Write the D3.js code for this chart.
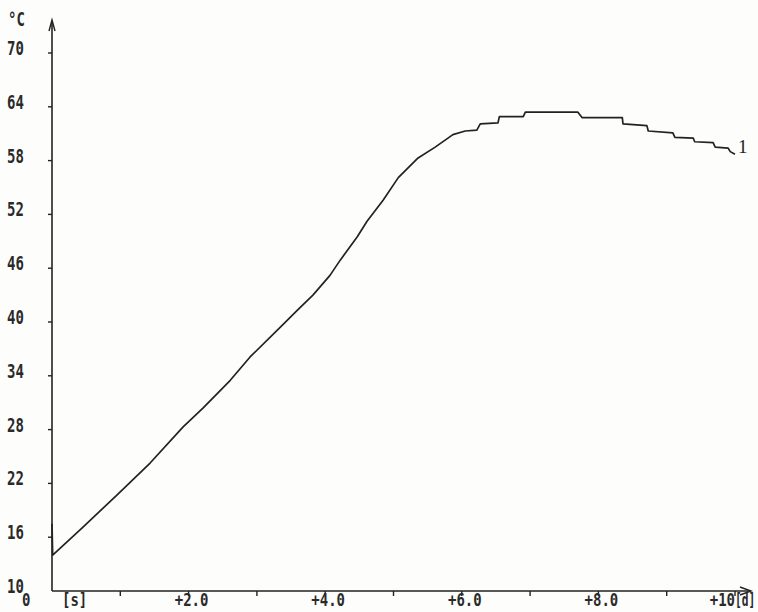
<!DOCTYPE html>
<html>
<head>
<meta charset="utf-8">
<script src="https://cdn.jsdelivr.net/npm/d3@7"></script>
<style>
    body { margin: 0; background: #fdfdfb; }
    svg { display: block; }
    .lbl { font-family: "DejaVu Sans Mono", monospace; font-weight: bold; font-size: 14px; fill: #2a2a2a; }
</style>
</head>
<body>
<svg id="chart" width="758" height="612"></svg>
<script>
// 数据：时间（天）与温度（°C）
const days = [0, 0.01, 0.45, 0.95, 1.44, 1.92, 2.21, 2.61, 2.90, 3.34, 3.59, 3.82, 4.07, 4.22, 4.47,
    4.61, 4.85, 5.07, 5.36, 5.61, 5.87, 6.05, 6.22, 6.27, 6.53, 6.55, 6.90, 6.93, 7.70, 7.76, 8.35,
    8.36, 8.71, 8.73, 9.09, 9.12, 9.39, 9.41, 9.68, 9.71, 9.90, 9.93, 10.0];
const temps = [17.5, 14.0, 17.1, 20.7, 24.3, 28.3, 30.4, 33.5, 36.1, 39.4, 41.3, 43.0, 45.2, 46.9, 49.5,
    51.2, 53.6, 56.1, 58.3, 59.5, 60.9, 61.3, 61.4, 62.1, 62.2, 62.9, 62.9, 63.4, 63.4, 62.8, 62.8,
    62.1, 61.9, 61.3, 61.1, 60.6, 60.5, 60.1, 60.0, 59.5, 59.4, 59.0, 58.7];

// 刻度
const yTicks = [10, 16, 22, 28, 34, 40, 46, 52, 58, 64, 70];
const xTicks = [1, 2, 3, 4, 5, 6, 7, 8, 9, 10];
const xLabels = [
    { v: 2, t: "+2.0" }, { v: 4, t: "+4.0" }, { v: 6, t: "+6.0" }, { v: 8, t: "+8.0" }
];

const svg = d3.select("#chart");

const x = d3.scaleLinear().domain([0, 10]).range([52, 735]);
const y = d3.scaleLinear().domain([10, 70]).range([591, 53]);

const ink = "#222";

// 带纵向拉伸的文字（模拟打印机字体）
function label(px, py, txt, anchor, sy, sx) {
    return svg.append("g")
        .attr("transform", `translate(${px},${py}) scale(${sx || 1},${sy || 1.35})`)
        .append("text")
        .attr("class", "lbl")
        .attr("text-anchor", anchor || "start")
        .text(txt);
}

// 坐标轴
svg.append("line")
    .attr("x1", x(0)).attr("x2", x(0))
    .attr("y1", y(10)).attr("y2", 21)
    .attr("stroke", ink).attr("stroke-width", 1.6);
svg.append("line")
    .attr("x1", x(0)).attr("x2", 750)
    .attr("y1", y(10)).attr("y2", y(10))
    .attr("stroke", ink).attr("stroke-width", 1.6);

// 箭头
svg.append("path")
    .attr("d", `M${x(0) - 3},31 L${x(0)},20 L${x(0) + 3},31`)
    .attr("fill", "none").attr("stroke", ink).attr("stroke-width", 1.4);
svg.append("path")
    .attr("d", `M740,${y(10) - 4} L751,${y(10)} L740,${y(10) + 4}`)
    .attr("fill", "none").attr("stroke", ink).attr("stroke-width", 1.4);

// Y轴刻度
svg.selectAll(".ytick")
    .data(yTicks.slice(1))
    .enter().append("line")
    .attr("class", "ytick")
    .attr("x1", x(0) - 4).attr("x2", x(0))
    .attr("y1", d => y(d)).attr("y2", d => y(d))
    .attr("stroke", ink).attr("stroke-width", 1.4);

yTicks.forEach(d => label(7, y(d) + 2, String(d)));

// X轴刻度
svg.selectAll(".xtick")
    .data(xTicks)
    .enter().append("line")
    .attr("class", "xtick")
    .attr("x1", d => x(d)).attr("x2", d => x(d))
    .attr("y1", y(10)).attr("y2", y(10) + 5)
    .attr("stroke", ink).attr("stroke-width", 1.4);

// X轴标签（靠近底边，纵向拉伸略小以免被裁切）
const xl = 606, xs = 1.25;
xLabels.forEach(d => label(x(d.v) + 3, xl, d.t, "middle", xs));
label(x(10), xl, "+10", "end", xs);
label(x(10), xl, "[d]", "start", xs, 0.8);   // 右边缘空间不足，横向压缩
label(22, xl, "0", "start", xs);
label(62, xl, "[s]", "start", xs);

// 单位
label(8, 26, "°C");

// 曲线
const line = d3.line()
    .x((d, i) => x(days[i]))
    .y((d, i) => y(temps[i]));

svg.append("path")
    .datum(temps)
    .attr("d", line)
    .attr("fill", "none")
    .attr("stroke", ink)
    .attr("stroke-width", 1.7)
    .attr("stroke-linejoin", "round");

// 曲线编号
svg.append("text")
    .attr("x", 738)
    .attr("y", 153)
    .attr("font-family", "Liberation Serif, serif")
    .attr("font-size", 19)
    .attr("fill", ink)
    .text("1");
</script>
</body>
</html>
